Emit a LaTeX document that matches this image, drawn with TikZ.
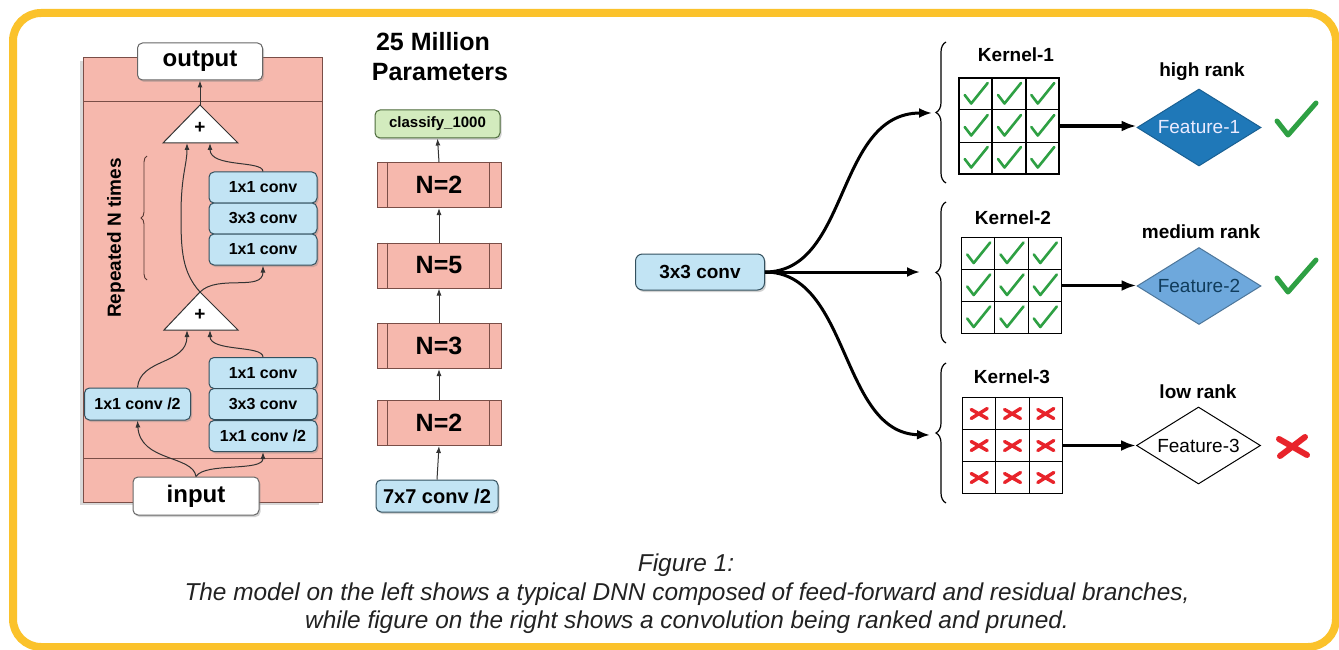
\documentclass[tikz,border=0pt]{standalone}
\usepackage{fontspec}
\setmainfont{Liberation Sans}
\usetikzlibrary{arrows.meta,shapes.geometric,decorations.pathreplacing,shadows,calc}
\definecolor{ybord}{HTML}{FBC22B}
\definecolor{pinkf}{HTML}{F6B8AD}
\definecolor{pinkd}{HTML}{7A4E47}
\definecolor{bluef}{HTML}{C2E4F4}
\definecolor{blued}{HTML}{33505E}
\definecolor{greenf}{HTML}{D3EBBE}
\definecolor{greend}{HTML}{4D6B3C}
\definecolor{chk}{HTML}{2EA043}
\definecolor{xred}{HTML}{E8232A}
\definecolor{fone}{HTML}{1F78B8}
\definecolor{ftwo}{HTML}{6EA8DC}
\definecolor{capc}{HTML}{222222}
\begin{document}
\begin{tikzpicture}[x=1pt,y=-1pt,
  every node/.style={inner sep=0pt},
  bx/.style={rounded corners=5pt, line width=1pt, minimum height=31pt,
    drop shadow={opacity=0.35, shadow xshift=1.5pt, shadow yshift=-2pt}},
  cb/.style={bx, draw=blued, fill=bluef, minimum width=108pt, font=\bfseries\fontsize{16}{18}\selectfont},
  wb/.style={bx, draw=black!60, fill=white, font=\bfseries\fontsize{24}{28}\selectfont},
  nb/.style={draw=pinkd, fill=pinkf, line width=1pt, minimum width=124pt, minimum height=45pt, font=\bfseries\fontsize{25}{30}\selectfont},
  la/.style={line width=1pt, draw=black!80, -{Latex[length=7pt,width=5pt]}},
  ta/.style={line width=3pt, -{Latex[length=13pt,width=10pt]}},
  lb/.style={font=\bfseries\fontsize{19}{22}\selectfont},
  kg/.style={draw, line width=1.3pt, minimum width=100pt, minimum height=96pt},
  dm/.style={diamond, draw, line width=1pt, aspect=1.61, minimum width=124pt, minimum height=77pt, font=\fontsize{19}{22}\selectfont},
  brc/.style={decorate, decoration={brace, amplitude=10pt}, line width=1.2pt},
  capt/.style={font=\itshape\fontsize{24.4}{28}\selectfont, text=capc, anchor=base},
  ck/.pic={\draw[chk, line width=2.6pt, line cap=round, line join=round] (-11,1) -- (-4.5,9.5) -- (12,-11);},
  bigck/.pic={\draw[chk, line width=5pt, line cap=round, line join=round] (-17,-4) -- (-6,10) -- (22,-22);},
  rx/.pic={\draw[xred, line width=3.4pt, line cap=round] (-8,-4) -- (8,5) (-8,5) -- (8,-5);},
  bigrx/.pic={\draw[xred, line width=6pt, line cap=round] (-14,-7) -- (14,9) (-13,10) -- (12,-9);}
]
\useasboundingbox (0,0) rectangle (1339,650);
\fill[white] (0,0) rectangle (1339,650);
\draw[ybord, line width=8pt, rounded corners=28pt] (13,13) rectangle (1336,647);

% ---------- left residual block ----------
\draw[pinkd, fill=pinkf, line width=1pt, drop shadow={opacity=0.3, shadow xshift=-3pt, shadow yshift=-3pt}] (83,58) rectangle (322,502);
\draw[pinkd, line width=1pt] (83,102) -- (322,102);
\draw[pinkd, line width=1pt] (83,458) -- (322,458);

\node[wb, minimum width=125pt, minimum height=37pt] (out) at (200,61.5) {output};
\node[wb, minimum width=126pt, minimum height=38pt] (in) at (196,496) {input};

\node[cb] (u1) at (263,187.5) {1x1 conv};
\node[cb] (u2) at (263,218.5) {3x3 conv};
\node[cb] (u3) at (263,249.5) {1x1 conv};
\node[cb] (d1) at (263,373) {1x1 conv};
\node[cb] (d2) at (263,404) {3x3 conv};
\node[cb] (d3) at (263,436) {1x1 conv /2};
\node[cb, minimum width=106pt, minimum height=32pt] (lbx) at (137.5,404) {1x1 conv /2};

\draw[fill=white, draw=black!80, line width=1pt] (163,143) -- (200,105) -- (238,143) -- cycle;
\draw[fill=white, draw=black!80, line width=1pt] (164,330) -- (200,292) -- (238,330) -- cycle;
\node[font=\bfseries\fontsize{19}{20}\selectfont] (p1) at (200,128) {+};
\node[font=\bfseries\fontsize{19}{20}\selectfont] (p2) at (200,315) {+};
\coordinate (t1a) at (200,105);
\coordinate (t1l) at (187,143);
\coordinate (t1r) at (210,143);
\coordinate (t2a) at (200,292);
\coordinate (t2l) at (187,330);
\coordinate (t2r) at (210,330);

\node[font=\bfseries\fontsize{19}{22}\selectfont, rotate=90] (rep) at (116,238) {Repeated N times};
\draw[brc, decoration={amplitude=6pt}, line width=0.9pt, pinkd!70!black] (147,280) -- (147,156);

\draw[la] (t1a) -- (out.south);
\draw[la] (u1.north) .. controls (263,160) and (210,168) .. (t1r);
\draw[la] (t2a) .. controls (182,272) and (181,250) .. (181,215) .. controls (181,175) and (187,165) .. (t1l);
\draw[la] (t2a) .. controls (218,274) and (263,292) .. (u3.south);
\draw[la] (d1.north) .. controls (263,345) and (210,352) .. (t2r);
\draw[la] (lbx.north) .. controls (140,358) and (187,365) .. (t2l);
\draw[la] (in.north) .. controls (193,455) and (140,462) .. (lbx.south);
\draw[la] (in.north) .. controls (205,462) and (263,472) .. (d3.south);

% ---------- middle column ----------
\node[font=\bfseries\fontsize{25}{30}\selectfont] (tt1) at (433,42) {25 Million};
\node[font=\bfseries\fontsize{25}{30}\selectfont] (tt2) at (440,72) {Parameters};
\node[bx, draw=greend, fill=greenf, minimum width=125pt, minimum height=28pt, font=\bfseries\fontsize{15}{17}\selectfont] (cls) at (437.5,124) {classify\_1000};
\node[nb] (n1) at (439,185) {N=2};
\node[nb] (n2) at (439,265.5) {N=5};
\node[nb] (n3) at (439,346) {N=3};
\node[nb] (n4) at (439,423) {N=2};
\foreach \n in {n1,n2,n3,n4}{
  \draw[pinkd, line width=1pt] ($(\n.north west)+(11,0)$) -- ($(\n.south west)+(11,0)$);
  \draw[pinkd, line width=1pt] ($(\n.north east)+(-12,0)$) -- ($(\n.south east)+(-12,0)$);
}
\node[bx, draw=blued, fill=bluef, minimum width=122pt, minimum height=32pt, font=\bfseries\fontsize{20}{22}\selectfont] (c7) at (437,496) {7x7 conv /2};
\draw[la] (c7.north) -- (n4.south);
\draw[la] (n4.north) -- (n3.south);
\draw[la] (n3.north) -- (n2.south);
\draw[la] (n2.north) -- (n1.south);
\draw[la] (n1.north) -- (cls.south);

% ---------- right: ranking ----------
\node[bx, draw=blued, fill=bluef, minimum width=129pt, minimum height=36pt, rounded corners=7pt, font=\bfseries\fontsize{19}{22}\selectfont] (conv3) at (700,272) {3x3 conv};
\coordinate (b1) at (932,113);
\coordinate (b2) at (920,272);
\coordinate (b3) at (930,435);
\draw[ta] (conv3.east) .. controls (850,272) and (835,113) .. (b1);
\draw[ta] (conv3.east) -- (b2);
\draw[ta] (conv3.east) .. controls (850,272) and (840,433) .. (b3);

\draw[brc] (946,183) -- (946,42);
\draw[brc] (946,343) -- (946,202);
\draw[brc] (946,503) -- (946,363);

\node[lb] (k1) at (1016,55) {Kernel-1};
\node[lb] (k2) at (1013,218) {Kernel-2};
\node[lb] (k3) at (1012,377) {Kernel-3};

\node[kg] (g1) at (1009,126) {};
\node[kg] (g2) at (1011.5,285.5) {};
\node[kg] (g3) at (1012.5,445.5) {};
\foreach \g in {g1,g2,g3}{
  \foreach \f in {1,2}{
    \draw[line width=1.3pt] ($(\g.north west)!\f/3!(\g.north east)$) -- ($(\g.south west)!\f/3!(\g.south east)$);
    \draw[line width=1.3pt] ($(\g.north west)!\f/3!(\g.south west)$) -- ($(\g.north east)!\f/3!(\g.south east)$);
  }
}
\foreach \i in {-1,0,1}{
  \foreach \j in {-1,0,1}{
    \pic at ($(g1.center)+(\i*33.3,\j*32)$) {ck};
    \pic at ($(g2.center)+(\i*33.3,\j*32)$) {ck};
    \pic at ($(g3.center)+(\i*33.3,\j*32)$) {rx};
  }
}

\node[dm, fill=fone, draw=fone!80!black, text=blue!8] (f1) at (1199,127.5) {Feature-1};
\node[dm, fill=ftwo, draw=ftwo!70!black, text=fone!50!black] (f2) at (1199,286) {Feature-2};
\node[dm, fill=white] (f3) at (1198.5,445.5) {Feature-3};

\draw[ta, line width=3.5pt, -{Latex[length=15pt,width=11pt]}] (g1.east) -- (g1.east -| f1.west);
\draw[ta, line width=3.5pt, -{Latex[length=15pt,width=11pt]}] (g2.east) -- (g2.east -| f2.west);
\draw[ta, line width=3.5pt, -{Latex[length=15pt,width=11pt]}] (g3.east) -- (g3.east -| f3.west);

\node[lb] (r1) at (1202,72) {high rank};
\node[lb] (r2) at (1201,232) {medium rank};
\node[lb] (r3) at (1198,392) {low rank};

\pic at (1294,125) {bigck};
\pic at (1294,282) {bigck};
\pic at (1293,446) {bigrx};

% ---------- caption ----------
\node[capt] (cap1) at (686,571) {Figure 1:};
\node[capt] (cap2) at (687,600) {The model on the left shows a typical DNN composed of feed-forward and residual branches,};
\node[capt] (cap3) at (687,628) {while figure on the right shows a convolution being ranked and pruned.};
\end{tikzpicture}
\end{document}
